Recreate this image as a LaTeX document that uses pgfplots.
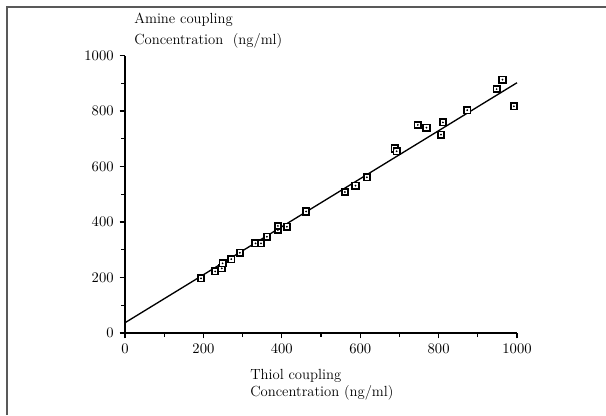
\documentclass[border=0pt]{standalone}
\usepackage{pgfplots}
\pgfplotsset{compat=1.18}
\begin{document}
\begin{tikzpicture}[x=0.75pt,y=0.75pt]
\useasboundingbox (0,0) rectangle (606,415);
\draw[line width=1.4pt, black!65] (6.7,0) -- (6.7,407.7) -- (606,407.7);
\begin{axis}[
  at={(93.75pt,61.5pt)}, anchor=origin,
  scale only axis, width=294pt, height=208.1pt,
  xmin=0, xmax=1000, ymin=0, ymax=1000,
  axis lines=left, axis line style={-, line width=1pt},
  xtick={0,200,...,1000}, ytick={0,200,...,1000},
  minor tick num=1,
  tick align=outside,
  major tick length=4pt, minor tick length=3pt,
  every tick/.style={black, line width=1pt},
  tick label style={font=\fontsize{11}{12}\selectfont},
  xticklabel style={yshift=-1pt},
  yticklabel style={xshift=-1pt},
  scaled ticks=false,
  /pgf/number format/1000 sep={},
  clip=false,
]
\addplot[black, line width=1pt] coordinates {(0,37) (1000,902)};
\addplot[only marks, mark=square*, mark size=2.4pt,
  mark options={fill=white, draw=black, line width=1.3pt}] coordinates {
(194,197) (230,222) (247,233) (249,251) (271,266) (293,289)
(333,323) (347,323) (362,347) (390,371) (390,386) (413,383)
(462,438) (561,508) (588,531) (617,561) (688,665) (693,655)
(747,750) (769,740) (806,715) (811,759) (873,803) (948,879)
(963,913) (992,817)
};
\addplot[only marks, mark=*, mark size=0.45pt, black] coordinates {
(194,197) (230,222) (247,233) (249,251) (271,266) (293,289)
(333,323) (347,323) (362,347) (390,371) (390,386) (413,383)
(462,438) (561,508) (588,531) (617,561) (688,665) (693,655)
(747,750) (769,740) (806,715) (811,759) (873,803) (948,879)
(963,913) (992,817)
};
\end{axis}
\node[anchor=north west, inner sep=0pt, align=left, font=\fontsize{11}{15.5}\selectfont] at (134,402) {Amine coupling\\Concentration~~(ng/ml)};
\node[anchor=north west, inner sep=0pt, align=left, font=\fontsize{11}{13}\selectfont] at (250,46) {Thiol coupling\\Concentration (ng/ml)};
\end{tikzpicture}
\end{document}
